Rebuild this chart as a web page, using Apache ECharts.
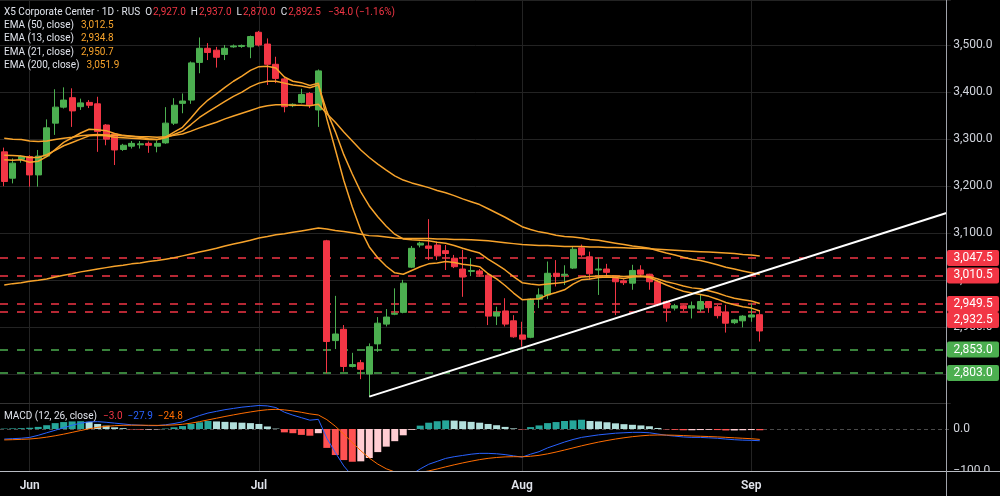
<!DOCTYPE html>
<html><head><meta charset="utf-8">
<script src="https://cdn.jsdelivr.net/npm/echarts@6/dist/echarts.min.js"></script>
<style>html,body{margin:0;padding:0;background:#000;}#c{width:1000px;height:496px;}</style>
</head><body><div id="c"></div>
<script>
// ---------------- data ----------------
const slotCount = 112;              // 90 daily candles + empty future slots
const monthTickIndex = [3, 30, 61, 88];
const monthTickLabels = ['Jun', 'Jul', 'Aug', 'Sep'];

const opens = [3273,3217,3257,3263,3224,3264,3334,3368,3388,3369,
3378,3375,3330,3311,3278,3285,3288,3291,3285,3292,
3334,3376,3383,3463,3493,3489,3480,3496,3497,3496,
3527,3502,3459,3428,3371,3378,3397,3362,3084,2872,
2896,2817,2825,2801,2865,2907,2928,2932,3028,3075,
3073,3075,3063,3047,3024,3019,3020,3011,2924,2935,
2914,2884,2879,2960,2969,3015,3011,3026,3069,3050,
3022,3024,3004,2999,2994,3022,3013,2997,2955,2941,
2946,2941,2939,2955,2944,2933,2910,2914,2922,2927];
const highs = [3282,3259,3266,3266,3277,3342,3406,3410,3408,3386,
3383,3390,3332,3313,3290,3296,3296,3295,3297,3368,
3387,3397,3465,3516,3504,3496,3500,3501,3501,3520,
3530,3514,3475,3430,3376,3407,3400,3448,3086,2967,
2905,2846,2831,2866,2922,2939,2983,3001,3073,3082,
3130,3082,3075,3054,3065,3047,3024,3013,2944,2962,
2926,2912,2962,2983,3040,3043,3032,3073,3076,3061,
3048,3035,3009,3002,3033,3032,3014,3000,2957,2950,
2948,2955,2969,2956,2948,2948,2918,2926,2951,2937];
const lows = [3200,3206,3250,3199,3199,3262,3309,3365,3326,3362,
3366,3273,3287,3245,3275,3280,3280,3271,3272,3290,
3330,3355,3375,3440,3468,3452,3468,3494,3494,3472,
3497,3415,3419,3357,3368,3376,3366,3326,2803,2854,
2806,2815,2790,2753,2848,2902,2926,2930,3026,3070,
3043,3043,3022,3026,2965,3009,3008,2905,2905,2902,
2878,2859,2877,2941,2960,2987,2990,3024,3050,3001,
2969,3008,2926,2990,2980,3008,2980,2945,2912,2936,
2935,2919,2933,2931,2919,2889,2907,2900,2912,2870];
const closes = [3210,3249,3263,3224,3264,3324,3368,3383,3360,3377,
3372,3316,3300,3277,3287,3291,3290,3287,3291,3334,
3372,3381,3462,3493,3484,3474,3493,3498,3499,3518,
3500,3459,3429,3369,3374,3395,3373,3445,2870,2886,
2817,2821,2811,2859,2909,2922,2930,2994,3068,3079,
3068,3052,3057,3029,3007,3021,3013,2924,2932,2907,
2880,2875,2960,2969,3015,3008,3013,3066,3054,3014,
3024,3017,2997,2995,3021,3013,2997,2948,2941,2946,
2940,2946,2955,2942,2925,2909,2916,2924,2926.5,2892.5];

const ema13 = [3256,3255,3256,3251,3253,3263,3278,3293,3303,3313,3321,3320,3318,3312,3308,3306,3304,3301,3299,3304,
3315,3325,3345,3366,3383,3396,3410,3423,3434,3446,3454,3455,3451,3432,3423,3420,3414,3419,3343,3278,
3212,3156,3107,3071,3048,3030,3016,3013,3021,3029,3035,3037,3040,3038,3034,3032,3029,3014,3003,2989,
2973,2959,2960,2961,2969,2974,2980,2992,3001,3003,3006,3007,3006,3004,3007,3008,3006,2998,2990,2983,
2977,2973,2970,2966,2960,2953,2948,2944,2941,2934.8];
const ema21 = [3266,3265,3264,3261,3261,3267,3276,3286,3293,3300,3307,3308,3307,3304,3303,3302,3301,3299,3299,3303,
3310,3317,3331,3346,3358,3369,3380,3391,3400,3411,3419,3423,3423,3419,3415,3413,3409,3415,3359,3316,
3267,3226,3188,3158,3135,3115,3098,3088,3086,3085,3084,3081,3079,3074,3068,3063,3058,3045,3034,3022,
3008,2995,2992,2990,2992,2994,2996,3002,3007,3008,3009,3010,3009,3008,3009,3009,3008,3003,2997,2993,
2988,2984,2982,2978,2973,2967,2962,2959,2956,2950.7];
const ema50 = [3302,3300,3299,3296,3295,3296,3299,3302,3304,3307,3309,3310,3309,3308,3307,3306,3305,3305,3304,3305,
3308,3311,3317,3324,3330,3336,3343,3349,3355,3361,3367,3371,3373,3373,3372,3372,3371,3374,3354,3336,
3315,3296,3277,3261,3247,3234,3222,3213,3207,3202,3197,3191,3186,3180,3173,3167,3161,3152,3143,3134,
3124,3114,3108,3103,3100,3096,3093,3092,3090,3087,3085,3082,3079,3076,3073,3071,3068,3063,3058,3054,
3049,3045,3042,3038,3033,3028,3024,3020,3016,3012.5];
const ema200 = [2990,2993,2995,2998,3000,3003,3007,3011,3014,3018,3021,3024,3027,3030,3032,3035,3037,3040,3042,3045,
3048,3052,3056,3060,3064,3068,3073,3077,3081,3085,3090,3093,3097,3099,3102,3105,3108,3111,3109,3106,
3104,3101,3098,3095,3094,3092,3090,3089,3089,3089,3089,3088,3088,3087,3087,3086,3085,3084,3082,3080,
3078,3076,3075,3074,3074,3073,3072,3072,3072,3071,3071,3070,3070,3069,3068,3068,3067,3066,3065,3064,
3063,3062,3061,3060,3059,3058,3057,3055,3054,3051.9];

const macdLine = [-24,-23,-22,-20,-15,-9,-3,3,9,14,
17,17.5,16,14,12,10,9,8,8,10,
13,17,25,32,38,42,46,49,52,54,
56,55,51,40,33,27,21,23,-22,-56,
-88,-112,-130,-139,-141,-139,-132,-119,-108,-95,
-84,-77,-70,-66,-63,-60,-58,-58,-59,-61,
-64,-67,-60,-54,-45,-38,-31,-25,-20,-17,
-14,-12,-10,-9,-8,-8,-9,-12,-15,-17,
-19,-20,-20,-21,-22,-24,-25.5,-26.5,-27,-27.9];
const signalLine = [-26,-25.4,-24.7,-23.8,-22,-19.4,-16.1,-12.3,-8,-3.6,
0.5,3.9,6.3,7.9,8.7,9,9,8.8,8.6,8.9,
9.7,11.2,13.9,17.5,21.6,25.7,29.8,33.6,37.3,40.6,
43.7,45.9,46.9,45.5,43,39.8,36,33.4,22.3,6.6,
-12.3,-32.2,-51.8,-69.2,-83.6,-94.7,-102.2,-105.5,-106,-103.8,
-99.8,-95.2,-90.1,-85.3,-80.8,-76.7,-72.9,-69.9,-67.8,-66.4,
-65.9,-66.1,-64.9,-62.7,-59.2,-54.9,-50.1,-45.1,-40.1,-35.5,
-31.2,-27.4,-23.9,-20.9,-18.3,-16.3,-14.8,-14.3,-14.4,-14.9,
-15.7,-16.6,-17.3,-18,-18.8,-19.9,-21,-22.1,-23.1,-24.8];
const macdHist = [1,1.5,2,3,5,9,14,16.5,18,18.5,
17,12,8,4,2,-1,-1.5,-1.5,-1,1,
4,7,12,16,19,18,17,16,15,14,
12,6,1,-8,-10,-14,-16,-10,-45,-62,
-74,-78,-77,-69,-55,-42,-29,-15,-2,8,
15,18.5,20.5,20,18.5,17,15,12,9,5,
1.5,-1,4.5,8.5,14,16.5,19,20.5,22,19,
18,16,13.5,11.5,10,8.5,6.5,2.5,-1,-2,
-3,-3,-2.5,-2,-2.5,-3.5,-3.5,-3,-2.5,-3];

const levelValues = [3047.5, 3010.5, 2949.5, 2932.5, 2853.0, 2803.0];
const trendStart = [43, 2753];
const trendEnd = [111, 3143];

const symbolTitle = 'X5 Corporate Center · 1D · RUS';
const emaNames = ['EMA (50, close)', 'EMA (13, close)', 'EMA (21, close)', 'EMA (200, close)'];
const macdTitle = 'MACD (12, 26, close)';

// ---------------- chart ----------------
const UP = '#4caf50', DOWN = '#f23645', EMA_C = '#f7a32b', GRID = '#232323';
const FONT = 'Roboto, "Noto Sans", sans-serif';
const fmt1 = v => (v < 0 ? '\u2212' : '') + Math.abs(v).toLocaleString('en-US', {minimumFractionDigits: 1, maximumFractionDigits: 1});

const cats = Array.from({length: slotCount}, (_, i) => String(i));
const last = closes.length - 1;
const candleData = opens.map((o, i) => [o, closes[i], lows[i], highs[i]]);
const histData = macdHist.map((h, i) => {
  const prev = i > 0 ? macdHist[i - 1] : h;
  let c;
  if (h >= 0) c = (i === 0 || h > prev) ? '#26a69a' : '#b2dfdb';
  else c = (h < prev) ? '#ff5252' : '#ffcdd2';
  return {value: h, itemStyle: {color: c}};
});

const GL = -2.556, GW = 953.34;
const chart = echarts.init(document.getElementById('c'));
const monthLines = monthTickIndex.map(i => ({xAxis: i, lineStyle: {color: GRID, width: 1, type: 'solid'}}));
const levelLines = levelValues.map(v => ({yAxis: v, lineStyle: {color: v > closes[last] ? DOWN : UP, width: 1.5, type: [8, 9]}}));

chart.setOption({
  backgroundColor: '#000',
  animation: false,
  grid: [
    {left: GL, top: 0, width: GW, height: 403},
    {left: GL, top: 403, width: GW, height: 68.5}
  ],
  xAxis: [
    {type: 'category', gridIndex: 0, data: cats, boundaryGap: true,
     axisLine: {show: false}, axisTick: {show: false}, axisLabel: {show: false}, splitLine: {show: false}},
    {type: 'category', gridIndex: 1, data: cats, boundaryGap: true,
     axisLine: {show: false}, axisTick: {show: false}, splitLine: {show: false},
     axisLabel: {show: true, interval: (idx) => monthTickIndex.includes(idx),
       formatter: (val, idx) => { const k = monthTickIndex.indexOf(Number(val)); return k >= 0 ? monthTickLabels[k] : ''; },
       color: '#e0e3eb', fontSize: 12, fontWeight: 600, fontFamily: FONT, margin: 8}}
  ],
  yAxis: [
    {type: 'value', gridIndex: 0, position: 'right', min: 2739.4, max: 3595.6, splitNumber: 8, scale: true,
     axisLine: {show: false}, axisTick: {show: false},
     axisLabel: {color: '#d1d4dc', fontSize: 12, fontFamily: FONT, margin: 2.5, showMinLabel: false, showMaxLabel: false,
       formatter: v => (Math.abs(v % 100) < 1e-6 ? fmt1(v) : '')},
     splitLine: {show: true, lineStyle: {color: GRID, width: 1}}},
    {type: 'value', gridIndex: 1, position: 'right', min: -101.2, max: 61.9, splitNumber: 3,
     axisLine: {show: false}, axisTick: {show: false}, splitLine: {show: false},
     axisLabel: {color: '#d1d4dc', fontSize: 12, fontFamily: FONT, margin: 2.5, showMinLabel: false, showMaxLabel: false,
       formatter: v => (v === 0 || v === -100 ? fmt1(v) : '')}}
  ],
  series: [
    {type: 'candlestick', name: 'X5', xAxisIndex: 0, yAxisIndex: 0, data: candleData, barWidth: 6.5, z: 2,
     itemStyle: {color: UP, color0: DOWN, borderColor: UP, borderColor0: DOWN, borderWidth: 1},
     markLine: {z: 1, silent: true, symbol: 'none', label: {show: false}, animation: false,
       data: monthLines.concat(levelLines)}},
    {type: 'line', name: 'EMA200', data: ema200, showSymbol: false, z: 3, lineStyle: {color: EMA_C, width: 1.5}},
    {type: 'line', name: 'EMA50', data: ema50, showSymbol: false, z: 3, lineStyle: {color: EMA_C, width: 1.5}},
    {type: 'line', name: 'EMA21', data: ema21, showSymbol: false, z: 3, lineStyle: {color: EMA_C, width: 1.5}},
    {type: 'line', name: 'EMA13', data: ema13, showSymbol: false, z: 3, lineStyle: {color: EMA_C, width: 1.5}},
    {type: 'line', name: 'trend', data: [trendStart, trendEnd], showSymbol: false, z: 4, lineStyle: {color: '#ffffff', width: 2}},
    {type: 'bar', name: 'hist', xAxisIndex: 1, yAxisIndex: 1, data: histData, barWidth: 7, z: 2,
     markLine: {z: 1, silent: true, symbol: 'none', label: {show: false}, animation: false,
       data: monthLines.concat([{yAxis: 0, lineStyle: {color: '#4a4a4a', width: 1, type: [4, 3]}}])}},
    {type: 'line', name: 'MACD', xAxisIndex: 1, yAxisIndex: 1, data: macdLine, showSymbol: false, z: 3, lineStyle: {color: '#2962ff', width: 1}},
    {type: 'line', name: 'Signal', xAxisIndex: 1, yAxisIndex: 1, data: signalLine, showSymbol: false, z: 3, lineStyle: {color: '#ff6d00', width: 1}}
  ]
});

// ---------------- overlays (text, price tags, borders) ----------------
function txt(x, y, text, rich) {
  return {type: 'text', x: x, y: y, z: 100, silent: true,
    style: {text: text, rich: rich, fill: '#e0e3eb', font: '10px ' + FONT, fontSize: 10, fontFamily: FONT,
            verticalAlign: 'middle', textVerticalAlign: 'middle', align: 'left', textAlign: 'left'}};
}
const rs = (c, extra) => Object.assign({fill: c, color: c, fontSize: 10, fontFamily: FONT}, extra || {});
const g = [];

// header
const ohlcVals = [opens[last], highs[last], lows[last], closes[last]];
const chg = closes[last] - closes[last - 1];
const pct = chg / closes[last - 1] * 100;
let head = '{t|' + symbolTitle + '}';
['O', 'H', 'L', 'C'].forEach((k, j) => { head += '{l|' + k + '}{v|' + fmt1(ohlcVals[j]) + '}'; });
head += '{c|' + fmt1(chg) + ' (' + fmt1(pct).replace(/\.(\d)$/, '.$1') + ')}';
head = head.replace(fmt1(pct) + ')', (pct < 0 ? '\u2212' : '') + Math.abs(pct).toFixed(2) + '%)');
g.push(txt(4, 12.5, head, {
  t: rs('#e0e3eb', {padding: [0, 5, 0, 0]}),
  l: rs('#e0e3eb', {padding: [0, 0, 0, 0]}),
  v: rs('#f23645', {padding: [0, 5, 0, 1]}),
  c: rs('#f23645', {padding: [0, 0, 0, 2]})
}));

// EMA legend
const emaLast = [ema50[last], ema13[last], ema21[last], ema200[last]];
emaNames.forEach((n, j) => {
  g.push(txt(4, 25.5 + j * 13.3, '{n|' + n + '}{v|' + fmt1(emaLast[j]) + '}', {
    n: rs('#e0e3eb'), v: rs(EMA_C, {padding: [0, 0, 0, 7]})
  }));
});

// MACD legend
g.push(txt(4, 416, '{n|' + macdTitle + '}{h|' + fmt1(macdHist[last]) + '}{m|' + fmt1(macdLine[last]) + '}{s|' + fmt1(signalLine[last]) + '}', {
  n: rs('#e0e3eb'), h: rs('#f23645', {padding: [0, 0, 0, 6]}), m: rs('#2962ff', {padding: [0, 0, 0, 5]}), s: rs('#ff6d00', {padding: [0, 0, 0, 5]})
}));

// price tags
const tagH = 16;
const tags = levelValues.map(v => ({v: v, y: chart.convertToPixel({yAxisIndex: 0}, v)})).sort((a, b) => a.y - b.y);
let prevBottom = -1e9;
tags.forEach(t => {
  let top = t.y - tagH / 2;
  if (top < prevBottom) top = prevBottom;
  prevBottom = top + tagH;
  const col = t.v > closes[last] ? DOWN : UP;
  g.push({type: 'rect', z: 101, silent: true, shape: {x: 947, y: top, width: 52, height: tagH, r: 2}, style: {fill: col}});
  g.push({type: 'text', z: 102, silent: true, x: 953.5, y: top + tagH / 2,
    style: {text: fmt1(t.v), fill: '#ffffff', font: '12px ' + FONT, fontSize: 12, fontFamily: FONT, verticalAlign: 'middle', textVerticalAlign: 'middle', align: 'left'}});
});

// clip area below MACD pane on the price scale, pane borders
g.push({type: 'rect', z: 90, silent: true, shape: {x: 947, y: 472, width: 53, height: 24}, style: {fill: '#000'}});
g.push({type: 'line', z: 95, silent: true, shape: {x1: 0, y1: 403.5, x2: 946, y2: 403.5}, style: {stroke: '#333333', lineWidth: 1}});
g.push({type: 'line', z: 95, silent: true, shape: {x1: 0, y1: 471.5, x2: 1000, y2: 471.5}, style: {stroke: '#b8bbc2', lineWidth: 1}});
g.push({type: 'line', z: 95, silent: true, shape: {x1: 946.5, y1: 0, x2: 946.5, y2: 496}, style: {stroke: '#a0a3aa', lineWidth: 1}});

chart.setOption({graphic: g});
</script>
</body></html>
